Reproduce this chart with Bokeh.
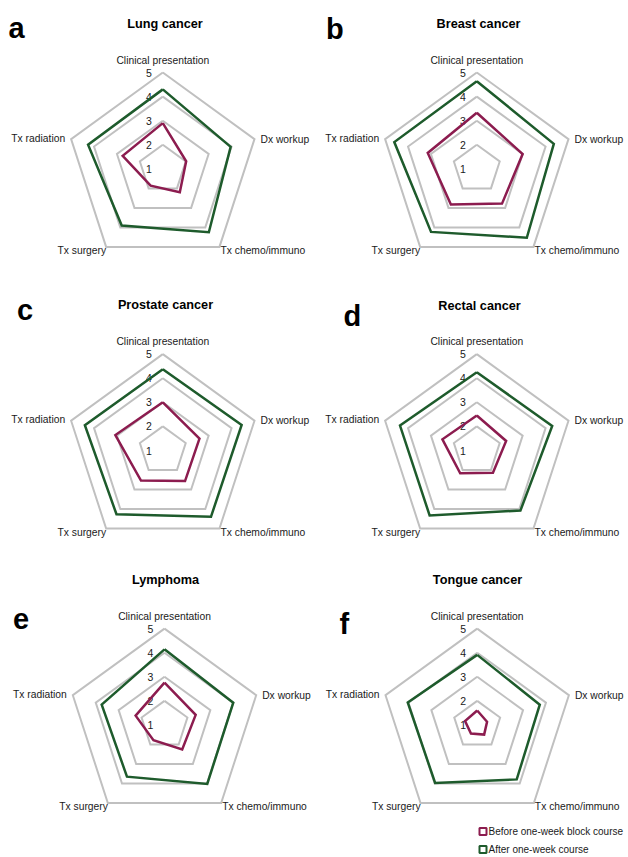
import math
from bokeh.plotting import figure
from bokeh.models import Range1d
from bokeh.core.properties import value
from bokeh.embed import file_html
from bokeh.resources import INLINE

# ---------------- data ----------------
categories = ["Clinical presentation", "Dx workup", "Tx chemo/immuno", "Tx surgery", "Tx radiation"]
panel_letters = ["a", "b", "c", "d", "e", "f"]
panel_titles = ["Lung cancer", "Breast cancer", "Prostate cancer", "Rectal cancer", "Lymphoma", "Tongue cancer"]
ring_values = [1, 2, 3, 4, 5]
series_names = ["Before one-week block course", "After one-week course"]

lung_before = [2.9, 2.02, 2.2, 1.86, 2.75]
lung_after = [4.3, 3.96, 4.25, 3.9, 4.26]
breast_before = [3.33, 3.0, 2.78, 2.83, 3.14]
breast_after = [4.64, 4.36, 4.53, 4.23, 4.6]
prostate_before = [3.0, 2.6, 2.57, 2.54, 3.07]
prostate_after = [4.37, 4.44, 4.4, 4.27, 4.4]
rectal_before = [2.45, 2.28, 2.14, 2.17, 2.5]
rectal_after = [4.25, 4.29, 4.08, 4.33, 4.35]
lymphoma_before = [2.76, 2.36, 2.25, 1.78, 2.26]
lymphoma_after = [4.14, 4.0, 4.02, 3.65, 3.74]
tongue_before = [1.6, 1.43, 1.49, 1.44, 1.53]
tongue_after = [3.91, 3.73, 3.79, 3.97, 4.03]

before_sets = [lung_before, breast_before, prostate_before, rectal_before, lymphoma_before, tongue_before]
after_sets = [lung_after, breast_after, prostate_after, rectal_after, lymphoma_after, tongue_after]

# ---------------- layout / style ----------------
FONT = "Liberation Sans"
W, H = 628, 857
R_MIN, R_MAX = 1, 5
RADIUS = 96.4
centers = [(162.3, 168.4), (476.3, 168.4), (162.3, 450.0), (476.3, 450.0), (164.0, 724.5), (476.7, 724.5)]
letter_pos = [(8, 27.7), (325.5, 28.3), (16.5, 309.3), (343, 315), (12.5, 618.3), (339, 623.3)]
title_pos = [(164.5, 23.5), (478, 23.5), (165, 304), (479, 305), (165, 579), (477, 579)]
COL_BEFORE = "#8C1C4F"
COL_AFTER = "#1E5B2C"
COL_GRID = "#C0C0C0"
COL_TEXT = "#1a1a1a"

p = figure(width=W, height=H, output_backend="svg", toolbar_location=None,
           x_range=Range1d(0, W), y_range=Range1d(H, 0),
           min_border=0, outline_line_color=None)
p.axis.visible = False
p.grid.visible = False
p.background_fill_color = "white"
p.border_fill_color = "white"

n = len(categories)
angles = [math.pi / 2 - 2 * math.pi * i / n for i in range(n)]


def to_xy(cx, cy, vals):
    xs, ys = [], []
    for v, a in zip(vals, angles):
        r = (v - R_MIN) / (R_MAX - R_MIN) * RADIUS
        xs.append(cx + r * math.cos(a))
        ys.append(cy - r * math.sin(a))
    return xs + xs[:1], ys + ys[:1]


for k in range(6):
    cx, cy = centers[k]
    # grid rings
    for rv in ring_values[1:]:
        xs, ys = to_xy(cx, cy, [rv] * n)
        p.line(xs, ys, line_color=COL_GRID, line_width=2, line_join="miter")
    # ring labels
    lx = [cx - 14] * len(ring_values)
    ly = [cy - (rv - R_MIN) / (R_MAX - R_MIN) * RADIUS for rv in ring_values]
    p.text(lx, ly, text=[str(v) for v in ring_values], text_font=value(FONT),
           text_font_size="10.5px", text_color=COL_TEXT, text_align="center", text_baseline="middle")
    # category labels
    vx, vy = to_xy(cx, cy, [R_MAX] * n)
    p.text([vx[0]], [vy[0] - 12.5], text=[categories[0]], text_font=value(FONT), text_font_size="10.3px",
           text_color=COL_TEXT, text_align="center", text_baseline="middle")
    p.text([vx[1] + 6], [vy[1]], text=[categories[1]], text_font=value(FONT), text_font_size="10.3px",
           text_color=COL_TEXT, text_align="left", text_baseline="middle")
    p.text([vx[2] + 1], [vy[2] + 4], text=[categories[2]], text_font=value(FONT), text_font_size="10.3px",
           text_color=COL_TEXT, text_align="left", text_baseline="middle")
    p.text([vx[3]], [vy[3] + 4], text=[categories[3]], text_font=value(FONT), text_font_size="10.3px",
           text_color=COL_TEXT, text_align="right", text_baseline="middle")
    p.text([vx[4] - 6], [vy[4] - 1], text=[categories[4]], text_font=value(FONT), text_font_size="10.3px",
           text_color=COL_TEXT, text_align="right", text_baseline="middle")
    # series
    xs, ys = to_xy(cx, cy, after_sets[k])
    p.line(xs, ys, line_color=COL_AFTER, line_width=2.5, line_join="miter")
    xs, ys = to_xy(cx, cy, before_sets[k])
    p.line(xs, ys, line_color=COL_BEFORE, line_width=2.5, line_join="miter")
    # title & letter
    p.text([title_pos[k][0]], [title_pos[k][1]], text=[panel_titles[k]], text_font=value(FONT),
           text_font_size="12.7px", text_font_style="bold", text_color="black",
           text_align="center", text_baseline="middle")
    p.text([letter_pos[k][0]], [letter_pos[k][1]], text=[panel_letters[k]], text_font=value(FONT),
           text_font_size="29px", text_font_style="bold", text_color="black",
           text_align="left", text_baseline="alphabetic")

# legend
leg_x = [482.5, 482.5]
leg_y = [831, 849]
p.scatter(leg_x, leg_y, marker="square", size=7, fill_color="white",
          line_color=[COL_BEFORE, COL_AFTER], line_width=2)
p.text([488, 488], leg_y, text=series_names, text_font=value(FONT), text_font_size="10px",
       text_color=COL_TEXT, text_align="left", text_baseline="middle")

open("out.html", "w").write(file_html(p, INLINE))
